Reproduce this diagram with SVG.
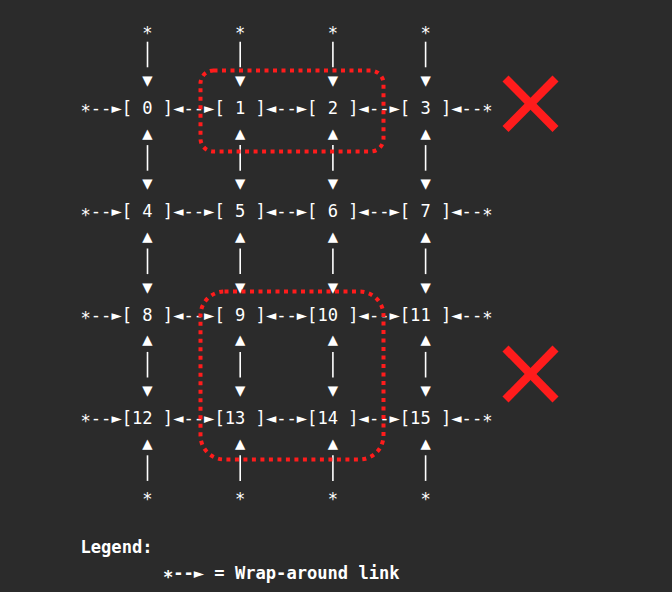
<svg xmlns="http://www.w3.org/2000/svg" width="672" height="592" viewBox="0 0 672 592">
  <style>
    .t { font-family: "DejaVu Sans Mono", "Liberation Mono", monospace; font-size: 17.1px; fill: #ffffff; white-space: pre; }
    .c { text-anchor: middle; }
    .b { font-weight: bold; }
    .v { stroke: #ffffff; stroke-width: 1.6; }
    .hl { fill: none; stroke: #ff1c1c; stroke-width: 4; stroke-dasharray: 4 4.5; }
    .x { stroke: #ff1c1c; stroke-width: 8.5; stroke-linecap: butt; }
  </style>
  <rect width="672" height="592" fill="#2b2b2b"/>

  <g id="connectors">
    <!-- vertical bars -->
    <g class="v">
      <line x1="147.5" y1="41.7" x2="147.5" y2="67.3"/>
      <line x1="240.2" y1="41.7" x2="240.2" y2="67.3"/>
      <line x1="332.9" y1="41.7" x2="332.9" y2="67.3"/>
      <line x1="425.6" y1="41.7" x2="425.6" y2="67.3"/>
      <line x1="147.5" y1="145.1" x2="147.5" y2="170.7"/>
      <line x1="240.2" y1="145.1" x2="240.2" y2="170.7"/>
      <line x1="332.9" y1="145.1" x2="332.9" y2="170.7"/>
      <line x1="425.6" y1="145.1" x2="425.6" y2="170.7"/>
      <line x1="147.5" y1="248.5" x2="147.5" y2="274.1"/>
      <line x1="240.2" y1="248.5" x2="240.2" y2="274.1"/>
      <line x1="332.9" y1="248.5" x2="332.9" y2="274.1"/>
      <line x1="425.6" y1="248.5" x2="425.6" y2="274.1"/>
      <line x1="147.5" y1="351.9" x2="147.5" y2="377.5"/>
      <line x1="240.2" y1="351.9" x2="240.2" y2="377.5"/>
      <line x1="332.9" y1="351.9" x2="332.9" y2="377.5"/>
      <line x1="425.6" y1="351.9" x2="425.6" y2="377.5"/>
      <line x1="147.5" y1="455.3" x2="147.5" y2="480.9"/>
      <line x1="240.2" y1="455.3" x2="240.2" y2="480.9"/>
      <line x1="332.9" y1="455.3" x2="332.9" y2="480.9"/>
      <line x1="425.6" y1="455.3" x2="425.6" y2="480.9"/>
    </g>

    <!-- top wrap-around -->
    <text class="t c" x="147.45" y="39.2">*</text>
    <text class="t c" x="240.15" y="39.2">*</text>
    <text class="t c" x="332.85" y="39.2">*</text>
    <text class="t c" x="425.55" y="39.2">*</text>
    <text class="t c" x="147.45" y="86">▼</text>
    <text class="t c" x="240.15" y="86">▼</text>
    <text class="t c" x="332.85" y="86">▼</text>
    <text class="t c" x="425.55" y="86">▼</text>

    <!-- vertical links rows 0-1 -->
    <text class="t c" x="147.45" y="138.6">▲</text>
    <text class="t c" x="240.15" y="138.6">▲</text>
    <text class="t c" x="332.85" y="138.6">▲</text>
    <text class="t c" x="425.55" y="138.6">▲</text>
    <text class="t c" x="147.45" y="189.4">▼</text>
    <text class="t c" x="240.15" y="189.4">▼</text>
    <text class="t c" x="332.85" y="189.4">▼</text>
    <text class="t c" x="425.55" y="189.4">▼</text>

    <!-- vertical links rows 1-2 -->
    <text class="t c" x="147.45" y="242">▲</text>
    <text class="t c" x="240.15" y="242">▲</text>
    <text class="t c" x="332.85" y="242">▲</text>
    <text class="t c" x="425.55" y="242">▲</text>
    <text class="t c" x="147.45" y="292.8">▼</text>
    <text class="t c" x="240.15" y="292.8">▼</text>
    <text class="t c" x="332.85" y="292.8">▼</text>
    <text class="t c" x="425.55" y="292.8">▼</text>

    <!-- vertical links rows 2-3 -->
    <text class="t c" x="147.45" y="345.4">▲</text>
    <text class="t c" x="240.15" y="345.4">▲</text>
    <text class="t c" x="332.85" y="345.4">▲</text>
    <text class="t c" x="425.55" y="345.4">▲</text>
    <text class="t c" x="147.45" y="396.2">▼</text>
    <text class="t c" x="240.15" y="396.2">▼</text>
    <text class="t c" x="332.85" y="396.2">▼</text>
    <text class="t c" x="425.55" y="396.2">▼</text>

    <!-- bottom wrap-around -->
    <text class="t c" x="147.45" y="448.8">▲</text>
    <text class="t c" x="240.15" y="448.8">▲</text>
    <text class="t c" x="332.85" y="448.8">▲</text>
    <text class="t c" x="425.55" y="448.8">▲</text>
    <text class="t c" x="147.45" y="504.5">*</text>
    <text class="t c" x="240.15" y="504.5">*</text>
    <text class="t c" x="332.85" y="504.5">*</text>
    <text class="t c" x="425.55" y="504.5">*</text>

    <!-- horizontal links -->
    <text class="t" x="80.5" y="117.25">*</text>
    <text class="t" x="90.8" y="113.75">--►</text>
    <text class="t" x="173.2" y="113.75">◄--►</text>
    <text class="t" x="265.9" y="113.75">◄--►</text>
    <text class="t" x="358.6" y="113.75">◄--►</text>
    <text class="t" x="451.3" y="113.75">◄--</text>
    <text class="t" x="482.2" y="117.25">*</text>

    <text class="t" x="80.5" y="220.65">*</text>
    <text class="t" x="90.8" y="217.15">--►</text>
    <text class="t" x="173.2" y="217.15">◄--►</text>
    <text class="t" x="265.9" y="217.15">◄--►</text>
    <text class="t" x="358.6" y="217.15">◄--►</text>
    <text class="t" x="451.3" y="217.15">◄--</text>
    <text class="t" x="482.2" y="220.65">*</text>

    <text class="t" x="80.5" y="324.05">*</text>
    <text class="t" x="90.8" y="320.55">--►</text>
    <text class="t" x="173.2" y="320.55">◄--►</text>
    <text class="t" x="265.9" y="320.55">◄--►</text>
    <text class="t" x="358.6" y="320.55">◄--►</text>
    <text class="t" x="451.3" y="320.55">◄--</text>
    <text class="t" x="482.2" y="324.05">*</text>

    <text class="t" x="80.5" y="427.45">*</text>
    <text class="t" x="90.8" y="423.95">--►</text>
    <text class="t" x="173.2" y="423.95">◄--►</text>
    <text class="t" x="265.9" y="423.95">◄--►</text>
    <text class="t" x="358.6" y="423.95">◄--►</text>
    <text class="t" x="451.3" y="423.95">◄--</text>
    <text class="t" x="482.2" y="427.45">*</text>
  </g>

  <g id="node0"><text class="t" x="121.7" y="113.75">[ 0 ]</text></g>
  <g id="node1"><text class="t" x="214.4" y="113.75">[ 1 ]</text></g>
  <g id="node2"><text class="t" x="307.1" y="113.75">[ 2 ]</text></g>
  <g id="node3"><text class="t" x="399.8" y="113.75">[ 3 ]</text></g>
  <g id="node4"><text class="t" x="121.7" y="217.15">[ 4 ]</text></g>
  <g id="node5"><text class="t" x="214.4" y="217.15">[ 5 ]</text></g>
  <g id="node6"><text class="t" x="307.1" y="217.15">[ 6 ]</text></g>
  <g id="node7"><text class="t" x="399.8" y="217.15">[ 7 ]</text></g>
  <g id="node8"><text class="t" x="121.7" y="320.55">[ 8 ]</text></g>
  <g id="node9"><text class="t" x="214.4" y="320.55">[ 9 ]</text></g>
  <g id="node10"><text class="t" x="307.1" y="320.55">[10 ]</text></g>
  <g id="node11"><text class="t" x="399.8" y="320.55">[11 ]</text></g>
  <g id="node12"><text class="t" x="121.7" y="423.95">[12 ]</text></g>
  <g id="node13"><text class="t" x="214.4" y="423.95">[13 ]</text></g>
  <g id="node14"><text class="t" x="307.1" y="423.95">[14 ]</text></g>
  <g id="node15"><text class="t" x="399.8" y="423.95">[15 ]</text></g>

  <g id="highlights">
    <rect class="hl" x="200.5" y="70.5" width="183" height="81" rx="13"/>
    <rect class="hl" x="200.5" y="291.5" width="183" height="168" rx="24"/>
  </g>

  <g id="crosses">
    <line class="x" x1="505.5" y1="78.5" x2="555.5" y2="129"/>
    <line class="x" x1="555.5" y1="78.5" x2="505.5" y2="129"/>
    <line class="x" x1="505.5" y1="348.5" x2="555.5" y2="399.5"/>
    <line class="x" x1="555.5" y1="348.5" x2="505.5" y2="399.5"/>
  </g>

  <g id="legend">
    <text class="t b" x="80.5" y="553.2">Legend:</text>
    <text class="t b" x="162.9" y="582.55">*</text>
    <text class="t b" x="173.2" y="579.05">--► = Wrap-around link</text>
  </g>
</svg>
